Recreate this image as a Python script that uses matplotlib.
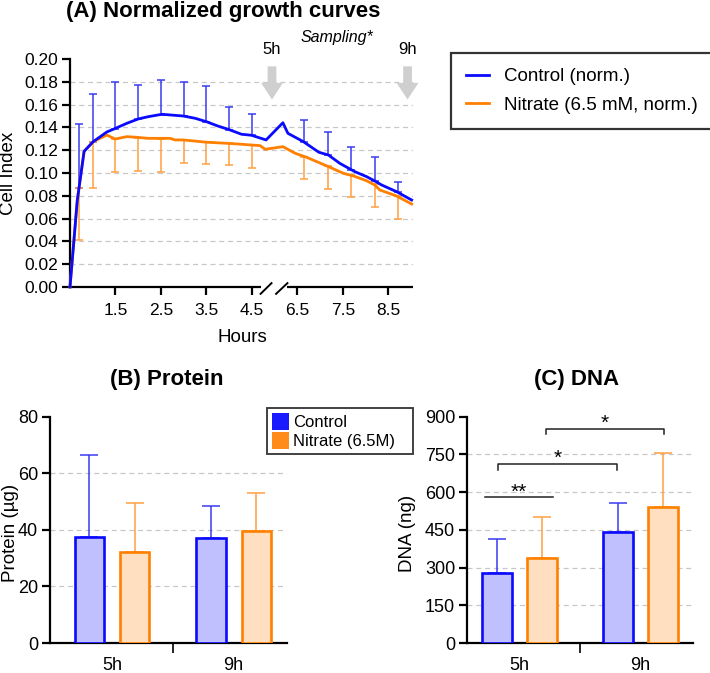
import matplotlib
matplotlib.use("Agg")
import matplotlib.pyplot as plt
from matplotlib.patches import Patch
from matplotlib.lines import Line2D
import matplotlib.transforms as mtransforms
import numpy as np

plt.rcParams['font.family'] = ['Liberation Sans', 'DejaVu Sans']

# ---- (A) growth curves, hours on a broken axis (5h..6h gap) ----
ctrl_t = [0.5, 0.66, 0.81, 1.01, 1.31, 1.49, 1.75, 2.0, 2.22, 2.52, 2.99, 3.25, 3.5, 3.75,
          3.98, 4.27, 4.49, 4.81, 6.18, 6.29, 6.63, 6.97, 7.18, 7.43, 7.76, 8.02, 8.2, 8.35,
          8.68, 9.01]
ctrl_ci = [0.0, 0.076, 0.119, 0.1275, 0.136, 0.139, 0.1436, 0.1474, 0.1494, 0.1515, 0.150,
           0.148, 0.145, 0.1412, 0.1383, 0.134, 0.1331, 0.129, 0.1441, 0.1348, 0.1275, 0.1182,
           0.1158, 0.1085, 0.1012, 0.0968, 0.093, 0.0895, 0.0836, 0.0763]
nit_t = [0.5, 0.66, 0.81, 1.01, 1.31, 1.49, 1.75, 1.97, 2.22, 2.52, 2.7, 2.81, 2.99, 3.5,
         3.98, 4.27, 4.68, 4.79, 6.18, 6.45, 6.7, 7.18, 7.51, 7.73, 8.02, 8.2, 8.31, 8.68, 9.01]
nit_ci = [0.0, 0.076, 0.119, 0.1275, 0.1333, 0.1298, 0.1319, 0.1313, 0.1304, 0.1304, 0.1304,
          0.129, 0.129, 0.127, 0.126, 0.1252, 0.124, 0.1208, 0.1231, 0.1173, 0.1138, 0.1056,
          0.0997, 0.0974, 0.0932, 0.0895, 0.0851, 0.0798, 0.0728]

# error bars (SD) shown at a subset of time points
err_t = [0.7, 1.0, 1.5, 2.0, 2.5, 3.0, 3.5, 4.0, 4.5, 6.65, 7.17, 7.68, 8.2, 8.71]
ctrl_at = [0.087, 0.127, 0.139, 0.147, 0.151, 0.150, 0.145, 0.138, 0.133, 0.127, 0.116,
           0.103, 0.093, 0.083]
ctrl_sd = [0.056, 0.042, 0.041, 0.030, 0.031, 0.030, 0.031, 0.020, 0.019, 0.0195, 0.020,
           0.020, 0.021, 0.0094]
nit_at = [0.087, 0.127, 0.130, 0.131, 0.130, 0.129, 0.127, 0.126, 0.125, 0.114, 0.106,
          0.098, 0.090, 0.080]
nit_sd = [0.046, 0.040, 0.029, 0.029, 0.029, 0.020, 0.0194, 0.019, 0.021, 0.019, 0.020,
          0.019, 0.020, 0.020]

hour_ticks = [1.5, 2.5, 3.5, 4.5, 6.5, 7.5, 8.5]
sampling_h = [4.94, 8.92]
sampling_lbl = ['5h', '9h']

# ---- (B) protein, (C) DNA ----
groups = ['5h', '9h']
protein_ctrl = [37.5, 37.0]
protein_ctrl_sd = [29.0, 11.3]
protein_nit = [32.0, 39.5]
protein_nit_sd = [17.5, 13.6]

dna_ctrl = [280, 440]
dna_ctrl_sd = [135, 115]
dna_nit = [340, 540]
dna_nit_sd = [163, 217]

BLUE = '#0a0aff'
ORANGE = '#ff8000'
BLUE_ERR = '#3a3af5'
ORANGE_ERR = '#ffa040'
BLUE_FILL = '#c0c0ff'
ORANGE_FILL = '#ffdfc0'
GRID = '#c8c8c8'
W, H = 710, 673


def rect(l, t, r, b):
    return [l / W, 1 - b / H, (r - l) / W, (b - t) / H]


def brk(t):
    t = np.asarray(t, dtype=float)
    return np.where(t > 5.0, t - 1.0, t)


def style_axis(ax):
    for s in ['top', 'right']:
        ax.spines[s].set_visible(False)
    for s in ['left', 'bottom']:
        ax.spines[s].set_linewidth(1.6)
    ax.tick_params(axis='both', which='both', direction='out', width=1.6, length=5.5,
                   labelsize=13, pad=3)


fig = plt.figure(figsize=(7.1, 6.73), dpi=100)

# ================= A =================
axA = fig.add_axes(rect(70, 59, 413, 287))
style_axis(axA)
axA.spines['bottom'].set_visible(False)
axA.set_xlim(0.5, 8.04)
axA.set_ylim(0, 0.20)
yt = np.arange(0, 0.201, 0.02)
axA.set_yticks(yt)
axA.set_yticklabels([f'{v:.2f}' for v in yt])
axA.tick_params(axis='y', labelsize=12.5)
axA.set_xticks(brk(hour_ticks))
axA.set_xticklabels([str(h) for h in hour_ticks])
axA.tick_params(axis='x', labelsize=12.5, pad=6)
for v in yt[1:-1]:
    axA.axhline(v, color=GRID, lw=0.9, ls=(0, (4, 3)), zorder=0)

axA.errorbar(brk(err_t), ctrl_at, yerr=[np.zeros(len(ctrl_sd)), ctrl_sd], fmt='none',
             ecolor=BLUE_ERR, elinewidth=1.1, capsize=3, capthick=1.1, zorder=2)
axA.errorbar(brk(err_t), nit_at, yerr=[nit_sd, np.zeros(len(nit_sd))], fmt='none',
             ecolor=ORANGE_ERR, elinewidth=1.1, capsize=3, capthick=1.1, zorder=2)
axA.plot(brk(nit_t), nit_ci, color=ORANGE, lw=2.0, zorder=3, clip_on=False)
axA.plot(brk(ctrl_t), ctrl_ci, color=BLUE, lw=2.0, zorder=4, clip_on=False)

# broken bottom spine
bt = mtransforms.blended_transform_factory(axA.transData, axA.transAxes)
for x0, x1 in [(0.5, 4.69), (5.27, 8.04)]:
    axA.add_line(Line2D([x0, x1], [0, 0], transform=bt, color='black', lw=1.6,
                        clip_on=False, solid_capstyle='butt'))
for x0, x1 in [(4.69, 4.93), (5.03, 5.28)]:
    axA.add_line(Line2D([x0, x1], [-0.03, 0.017], transform=bt, color='black', lw=1.4,
                        clip_on=False))

# sampling arrows
for h, lbl in zip(sampling_h, sampling_lbl):
    x = float(brk(h))
    axA.annotate('', xy=(x, 0.162), xytext=(x, 0.196),
                 arrowprops=dict(arrowstyle='simple,head_length=0.8,head_width=1.05,tail_width=0.42',
                                 color='#cfcfcf', lw=0, mutation_scale=15), annotation_clip=False)
    axA.text(x, 0.208, lbl, ha='center', va='center', fontsize=12)
axA.text(6.37, 0.219, 'Sampling*', ha='center', va='center', fontsize=11.5, style='italic')

fig.text(223 / W, 1 - 11 / H, '(A) Normalized growth curves', ha='center', va='center',
         fontsize=16, fontweight='bold')
fig.text(8.5 / W, 1 - 173 / H, 'Cell Index', ha='center', va='center', rotation=90,
         fontsize=13.5)
fig.text(242 / W, 1 - 337 / H, 'Hours', ha='center', va='center', fontsize=13.5)

legA = [Line2D([0], [0], color=BLUE, lw=2), Line2D([0], [0], color=ORANGE, lw=2)]
lg = fig.legend(legA, ['Control (norm.)', 'Nitrate (6.5 mM, norm.)'], loc='upper left',
                bbox_to_anchor=(451 / W, 1 - 53 / H), bbox_transform=fig.transFigure,
                fontsize=13.5, frameon=True, fancybox=False, edgecolor='black',
                handlelength=1.25, handletextpad=0.8, borderpad=0.8, labelspacing=0.6,
                borderaxespad=0)
lg.get_frame().set_linewidth(1.6)

# ================= B & C =================
offset = 0.186
bw = 0.24
xg = np.arange(len(groups))


def bar_panel(ax, ctrl, ctrl_sd, nit, nit_sd, ymax, step, xlim):
    style_axis(ax)
    ax.set_xlim(*xlim)
    ax.set_ylim(0, ymax)
    yt = np.arange(0, ymax + 1, step)
    ax.set_yticks(yt)
    for v in yt[1:-1]:
        ax.axhline(v, color=GRID, lw=0.9, ls=(0, (4, 3)), zorder=0)
    ax.bar(xg - offset, ctrl, bw, color=BLUE_FILL, edgecolor=BLUE, linewidth=1.9, zorder=3)
    ax.bar(xg + offset, nit, bw, color=ORANGE_FILL, edgecolor=ORANGE, linewidth=1.9, zorder=3)
    ax.errorbar(xg - offset, ctrl, yerr=[np.zeros(2), ctrl_sd], fmt='none', ecolor=BLUE_ERR,
                elinewidth=1.1, capsize=6.5, capthick=1.1, zorder=2)
    ax.errorbar(xg + offset, nit, yerr=[np.zeros(2), nit_sd], fmt='none', ecolor=ORANGE_ERR,
                elinewidth=1.1, capsize=6.5, capthick=1.1, zorder=2)
    ax.set_xticks(xg)
    ax.set_xticklabels(groups)
    ax.tick_params(axis='x', which='major', length=0, pad=10)
    ax.set_xticks([0.5], minor=True)
    ax.tick_params(axis='x', which='minor', length=7, width=1.2)


axB = fig.add_axes(rect(50, 416.7, 287, 643))
bar_panel(axB, protein_ctrl, protein_ctrl_sd, protein_nit, protein_nit_sd, 80, 20,
          (-0.51, 1.44))
axC = fig.add_axes(rect(467, 416.7, 693, 643))
bar_panel(axC, dna_ctrl, dna_ctrl_sd, dna_nit, dna_nit_sd, 900, 150, (-0.434, 1.434))

fig.text(167 / W, 1 - 379 / H, '(B) Protein', ha='center', va='center', fontsize=16,
         fontweight='bold')
fig.text(577 / W, 1 - 379 / H, '(C) DNA', ha='center', va='center', fontsize=16,
         fontweight='bold')
fig.text(11 / W, 1 - 533 / H, 'Protein (µg)', ha='center', va='center', rotation=90,
         fontsize=13.5)
fig.text(407 / W, 1 - 533 / H, 'DNA (ng)', ha='center', va='center', rotation=90,
         fontsize=13.5)

legB = [Patch(facecolor='#1a1aff', edgecolor='none'), Patch(facecolor='#ff8c1a', edgecolor='none')]
lgb = fig.legend(legB, ['Control', 'Nitrate (6.5M)'], loc='upper left',
                 bbox_to_anchor=(267 / W, 1 - 452 / H, 146 / W, 44 / H), mode='expand',
                 bbox_transform=fig.transFigure,
                 fontsize=12, frameon=True, fancybox=False, edgecolor='black',
                 handlelength=1.0, handleheight=1.15, handletextpad=0.25, borderpad=0.3,
                 labelspacing=0.15, borderaxespad=0)
lgb.get_frame().set_linewidth(1.3)

# significance brackets in C
sig_x0 = [-0.285, -0.178, 0.219]
sig_x1 = [0.277, 0.806, 1.194]
sig_y = [579, 712, 851]
sig_drop = [0, 22, 21]
sig_txt = ['**', '*', '*']
for x0, x1, y, d, s in zip(sig_x0, sig_x1, sig_y, sig_drop, sig_txt):
    axC.plot([x0, x0, x1, x1], [y - d, y, y, y - d], color='#222222', lw=1.1, clip_on=False,
             zorder=5)
    axC.text((x0 + x1) / 2, y + 22, s, ha='center', va='center', fontsize=15, zorder=5)

fig.savefig('out.png', dpi=100)
